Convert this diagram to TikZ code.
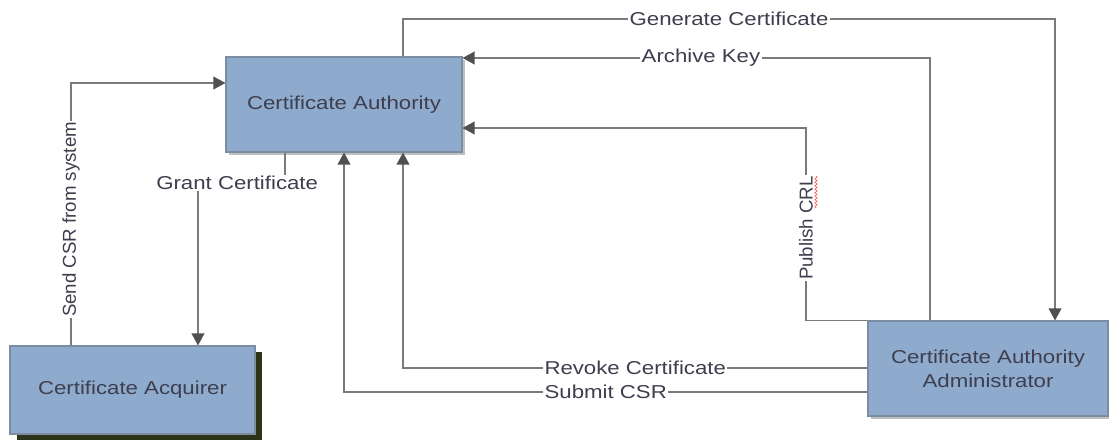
\documentclass[tikz,border=0pt]{standalone}
\usepackage{fontspec}
\setmainfont{Liberation Sans}[FakeStretch=1.19]
\newfontfamily\uprightlabelfont{Liberation Sans}
\usetikzlibrary{arrows.meta,shadows,decorations.pathmorphing}
\definecolor{boxfill}{HTML}{8EABCE}
\definecolor{boxedge}{HTML}{7C8CA2}
\definecolor{wire}{HTML}{7A7A7A}
\definecolor{tipcol}{HTML}{505050}
\definecolor{inkcol}{HTML}{3E3E4E}
\definecolor{darkshade}{HTML}{2B3319}
\tikzset{
  x=0.75pt, y=-0.75pt,
  entity/.style={draw=boxedge, line width=0.8pt, fill=boxfill, text=inkcol,
    font=\fontsize{14}{18}\selectfont, align=center, inner sep=0pt},
  softshade/.style={drop shadow={shadow xshift=2.5pt, shadow yshift=-2.5pt, opacity=0.25, fill=black}},
  hardshade/.style={drop shadow={shadow xshift=5pt, shadow yshift=-4.5pt, opacity=1, fill=darkshade}},
  link/.style={draw=wire, line width=1.1pt, -{Triangle[width=9.5pt,length=9pt,color=tipcol]}},
  lbl/.style={fill=white, text=inkcol, inner sep=1pt, font=\fontsize{14}{16}\selectfont},
  vlbl/.style={fill=white, text=inkcol, inner sep=1pt, rotate=90,
    font=\uprightlabelfont\fontsize{14}{16}\selectfont},
}
\begin{document}
\begin{tikzpicture}
\useasboundingbox (0,0) rectangle (1109,439);

% entities
\node[entity, softshade, minimum width=177pt, minimum height=71.25pt] (ca) at (344,104.5) {Certificate Authority};
\node[entity, hardshade, minimum width=183.75pt, minimum height=66pt] (acq) at (132.5,390) {Certificate Acquirer};
\node[entity, softshade, minimum width=180pt, minimum height=71.25pt] (adm) at (988,368.5) {Certificate Authority\\Administrator};

% CA -> administrator
\draw[link] (403,0 |- ca.north) -- (403,19) -- node[lbl]{Generate Certificate} (1055,19) -- (1055,0 |- adm.north);

% administrator -> CA
\draw[link] (930,0 |- adm.north) -- (930,58) -- node[lbl, pos=0.49]{Archive Key} (ca.east |- 0,58);
\draw[link] (adm.north west) -- (806,0 |- adm.north west) -- node[vlbl, pos=0.48]{Publish CRL} (806,128) -- (ca.east |- 0,128);
\draw[link] (adm.west |- 0,368) -- node[lbl]{Revoke Certificate} (403,368) -- (403,0 |- ca.south);
\draw[link] (adm.west |- 0,392) -- node[lbl]{Submit CSR} (344,392) -- (344,0 |- ca.south);

% acquirer <-> CA
\draw[link] (71,0 |- acq.north) -- node[vlbl, pos=0.48]{Send CSR from system} (71,83) -- (ca.west |- 0,83);
\draw[link] (285,0 |- ca.south) -- (285,183) -- node[lbl, pos=0.55]{Grant Certificate} (198,183) -- (198,0 |- acq.north);

% spell-check squiggle beside "CRL"
\draw[red!75, line width=0.4pt, decorate, decoration={snake, amplitude=0.9pt, segment length=2.6pt}] (816,176) -- (816,208);
\end{tikzpicture}
\end{document}
